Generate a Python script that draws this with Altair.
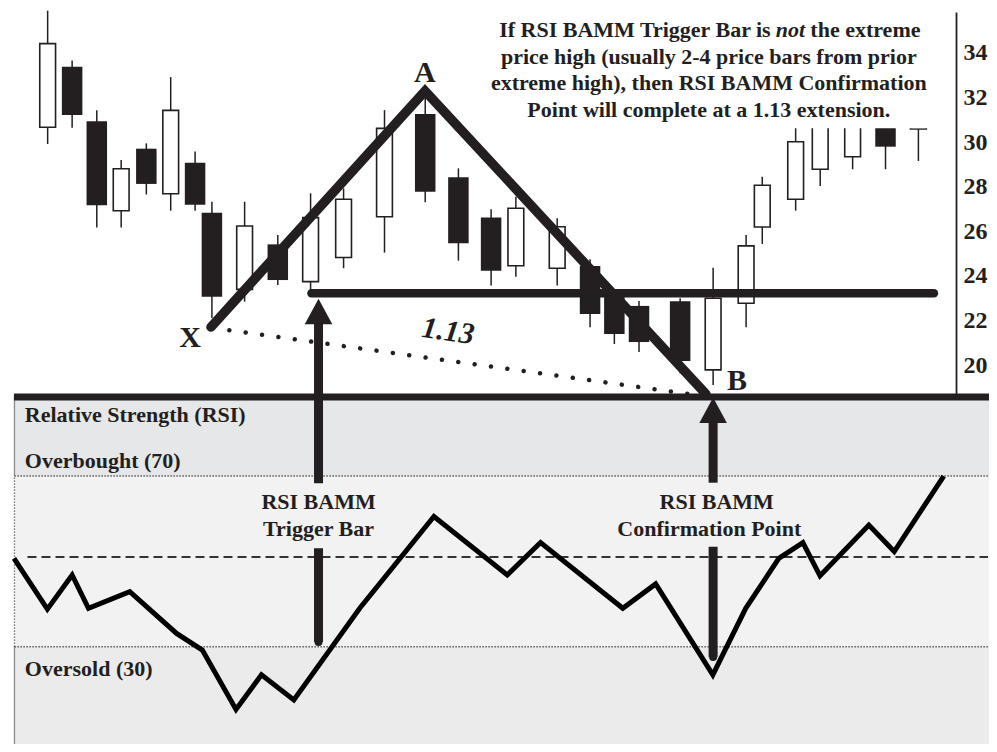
import altair as alt
import pandas as pd

# ---------------- values ----------------
# candlesticks: position on a session scale, prices in dollars
candle_t = [3.54, 6.04, 8.56, 11.05, 13.62, 16.11, 18.60, 20.32, 23.66, 27.05,
            30.40, 33.77, 37.95, 42.11, 45.50, 48.84, 51.37, 55.59, 58.95, 61.43,
            63.95, 68.15, 71.52, 74.89, 76.54, 79.95, 82.46, 85.77, 89.13, 92.49]
candle_open = [30.66, 33.38, 30.93, 26.92, 29.70, 27.68, 29.07, 26.83, 23.39, 25.41,
               23.74, 24.82, 26.65, 31.26, 28.42, 26.62, 24.45, 24.34, 24.44, 23.15,
               22.65, 22.86, 19.78, 22.77, 26.19, 27.43, 28.78, 29.34, 31.20, 30.58]
candle_high = [35.89, 33.66, 31.42, 29.19, 29.94, 32.91, 29.57, 27.32, 27.32, 25.83,
               27.70, 27.92, 31.43, 32.20, 28.82, 26.98, 27.55, 26.58, 24.74, 23.40,
               22.87, 22.99, 24.36, 25.83, 28.44, 30.90, 31.80, 31.60, 31.60, 31.80]
candle_low = [29.91, 30.64, 26.17, 26.17, 27.65, 26.92, 26.92, 22.11, 22.84, 23.59,
              23.36, 24.34, 25.04, 27.30, 24.68, 23.56, 23.96, 23.56, 21.69, 20.94,
              20.58, 19.63, 19.10, 21.69, 25.43, 26.92, 28.03, 28.78, 28.78, 29.15]
candle_close = [34.41, 31.21, 27.16, 28.80, 28.12, 31.42, 27.19, 23.06, 26.23, 23.81,
                26.61, 27.43, 30.61, 27.77, 25.46, 24.23, 27.03, 26.20, 22.29, 21.39,
                21.03, 20.18, 22.99, 25.34, 28.06, 30.01, 31.30, 31.10, 29.79, 31.40]

# RSI line
rsi_t = [0.10, 3.51, 6.04, 7.71, 11.93, 16.71, 19.34, 22.78, 25.38, 28.69,
         35.42, 43.00, 50.49, 53.89, 62.29, 65.65, 71.49, 74.85, 78.23, 80.69,
         82.44, 87.43, 90.02, 95.08]
rsi_value = [50.7, 38.8, 46.8, 39.0, 42.9, 33.1, 29.2, 15.3, 23.4, 17.5,
             39.0, 60.5, 46.8, 54.4, 39.0, 44.7, 23.4, 39.0, 50.7, 54.4,
             46.6, 58.5, 52.3, 70.0]

# pattern points X, A, B
pattern_label = ["X", "A", "B"]
pattern_t = [20.22, 42.09, 70.78]
pattern_price = [21.70, 32.29, 18.70]

# 1.13 extension (dotted) from X to B
ext_t = [20.43, 70.58]
ext_price = [21.66, 18.61]

# RSI BAMM trigger bar level
trigger_price = 23.22
trigger_t = [30.49, 94.08]

price_ticks = [20, 22, 24, 26, 28, 30, 32, 34]
price_domain = [18.565, 35.83]
rsi_overbought, rsi_oversold, rsi_mid = 70, 30, 51
rsi_panel_top = 89

# annotation box (hides the tops of the last bars)
note_box_t = [78.1, 94.6]
note_box_price = [30.615, 36.5]

note_lines = ["price high (usually 2-4 price bars from prior",
              "extreme high), then RSI BAMM Confirmation",
              "Point will complete at a 1.13 extension."]
note_line_price = [33.51, 32.32, 31.13]
note_first = ["If RSI BAMM Trigger Bar is", "not", "the extreme"]
note_first_t = [77.40, 79.42, 81.45]
note_first_price = 34.70
note_center_t = 71.08

# arrows: x position, shaft pieces (price units), head centre
arrow_t = [31.21, 71.52]
arrow_upper = [[22.108, 14.695], [17.623, 14.722]]
arrow_lower = [[11.780, 7.578], [11.852, 6.906]]
arrow_head_price = [22.399, 17.969]

rsi_labels = ["Relative Strength (RSI)", "Overbought (70)", "Oversold (30)"]
rsi_label_value = [82.72, 71.87, 23.13]
arrow_labels = ["RSI BAMM", "Trigger Bar", "RSI BAMM", "Confirmation Point"]
arrow_label_t = [31.21, 31.21, 71.89, 71.13]
arrow_label_value = [62.27, 56.01, 62.27, 56.01]

# ---------------- styles ----------------
INK = "#231f20"
SERIF = "Liberation Serif"
W, H = 981, 736

x_scale = alt.Scale(domain=[0, W / 9.89], nice=False, zero=False)
price_scale = alt.Scale(domain=price_domain, range=[389, 4], nice=False, zero=False)
rsi_scale = alt.Scale(domain=[0, 100], range=[766.7, 340.0], nice=False, zero=False)
price_axis = alt.Axis(orient="right", offset=-33, values=price_ticks, ticks=False,
                      grid=False, domainColor=INK, domainWidth=1.8, labelFont=SERIF,
                      labelFontSize=24, labelFontWeight="bold", labelColor=INK,
                      labelPadding=7, title=None, labelOverlap=False)


def ex(f):
    return alt.X(f"{f}:Q", scale=x_scale, axis=None)


def ep(f):
    return alt.Y(f"{f}:Q", scale=price_scale, axis=price_axis)


def er(f):
    return alt.Y(f"{f}:Q", scale=rsi_scale, axis=None)


# ---------------- tables ----------------
candles = pd.DataFrame({"t": candle_t, "open": candle_open, "high": candle_high,
                        "low": candle_low, "close": candle_close})
candles["lo"] = candles[["open", "close"]].min(axis=1)
candles["hi"] = candles[["open", "close"]].max(axis=1)
up = candles[candles["close"] > candles["open"]]
down = candles[candles["close"] <= candles["open"]]

pattern = pd.DataFrame({"t": pattern_t, "p": pattern_price, "label": pattern_label})
ext = pd.DataFrame({"t": ext_t, "p": ext_price})
trig = pd.DataFrame({"t": [trigger_t[0]], "t2": [trigger_t[1]], "p": [trigger_price]})
boundary = pd.DataFrame({"t": [0.10], "t2": [101], "p": [price_domain[0]]})
box = pd.DataFrame({"t": [note_box_t[0]], "t2": [note_box_t[1]],
                    "p": [note_box_price[0]], "p2": [note_box_price[1]]})
shafts = pd.DataFrame({"t": arrow_t * 2,
                       "p": [a[0] for a in arrow_upper] + [a[0] for a in arrow_lower],
                       "p2": [a[1] for a in arrow_upper] + [a[1] for a in arrow_lower]})
heads = pd.DataFrame({"t": arrow_t, "p": arrow_head_price})
caps = pd.DataFrame({"t": arrow_t, "p": [a[1] for a in arrow_lower]})

letters = pd.DataFrame({"t": [18.10, 42.07, 73.96], "p": [20.81, 32.70, 18.88],
                        "text": pattern_label})
ratio = pd.DataFrame({"t": [44.44], "p": [21.50], "text": ["1.13"]})
notes = pd.DataFrame({"t": [note_center_t] * 3, "p": note_line_price, "text": note_lines})
first_a = pd.DataFrame({"t": [note_first_t[0]], "p": [note_first_price], "text": [note_first[0]]})
first_b = pd.DataFrame({"t": [note_first_t[1]], "p": [note_first_price], "text": [note_first[1]]})
first_c = pd.DataFrame({"t": [note_first_t[2]], "p": [note_first_price], "text": [note_first[2]]})

rsi = pd.DataFrame({"t": rsi_t, "v": rsi_value})
zones = pd.DataFrame({"t": [0.15] * 3, "t2": [101] * 3,
                      "v": [rsi_overbought, rsi_oversold, -10],
                      "v2": [rsi_panel_top, rsi_overbought, rsi_oversold],
                      "zone": ["top", "mid", "bottom"]})
levels = pd.DataFrame({"t": [0.15, 0.15], "t2": [101, 101], "v": [rsi_overbought, rsi_oversold]})
mid = pd.DataFrame({"t": [1.48], "t2": [99.6], "v": [rsi_mid]})
edge_solid = pd.DataFrame({"t": [0.15, 0.15], "v": [rsi_overbought, -10],
                           "v2": [rsi_panel_top, rsi_oversold]})
edge_dot = pd.DataFrame({"t": [0.15], "v": [rsi_oversold], "v2": [rsi_overbought]})
rsi_text = pd.DataFrame({"t": [1.21] * 3, "v": rsi_label_value, "text": rsi_labels})
arrow_text = pd.DataFrame({"t": arrow_label_t, "v": arrow_label_value, "text": arrow_labels})

# ---------------- RSI panel ----------------
zone_layer = alt.Chart(zones).mark_rect(strokeWidth=0).encode(
    x=ex("t"), x2="t2", y=er("v"), y2="v2",
    color=alt.Color("zone:N", legend=None,
                    scale=alt.Scale(domain=["top", "mid", "bottom"],
                                    range=["#e6e7e9", "#f2f2f2", "#ebebeb"])))
edge_layer = alt.Chart(edge_solid).mark_rule(color="#8c8c8c", strokeWidth=1.3).encode(
    x=ex("t"), y=er("v"), y2="v2")
edge_dot_layer = alt.Chart(edge_dot).mark_rule(color="#555555", strokeWidth=1.3,
                                               strokeDash=[1.3, 1.7]).encode(
    x=ex("t"), y=er("v"), y2="v2")
level_layer = alt.Chart(levels).mark_rule(color="#444444", strokeWidth=1.4,
                                          strokeDash=[1.3, 1.7]).encode(
    x=ex("t"), x2="t2", y=er("v"))
mid_layer = alt.Chart(mid).mark_rule(color="#333333", strokeWidth=2,
                                     strokeDash=[9, 5]).encode(
    x=ex("t"), x2="t2", y=er("v"))
rsi_line = alt.Chart(rsi).mark_line(color="#000000", strokeWidth=5,
                                    strokeJoin="miter").encode(x=ex("t"), y=er("v"))
rsi_label_layer = alt.Chart(rsi_text).mark_text(
    align="left", baseline="alphabetic", font=SERIF, fontSize=22, fontWeight="bold",
    color=INK).encode(x=ex("t"), y=er("v"), text="text:N")
arrow_label_layer = alt.Chart(arrow_text).mark_text(
    align="center", baseline="alphabetic", font=SERIF, fontSize=22, fontWeight="bold",
    color=INK).encode(x=ex("t"), y=er("v"), text="text:N")

rsi_panel = alt.layer(zone_layer, edge_layer, edge_dot_layer, level_layer, mid_layer,
                      rsi_line, rsi_label_layer, arrow_label_layer)

# ---------------- price panel ----------------
wicks = alt.Chart(candles).mark_rule(color=INK, strokeWidth=1.5).encode(
    x=ex("t"), y=ep("low"), y2="high")
down_bodies = alt.Chart(down).mark_bar(size=20.5, color=INK).encode(
    x=ex("t"), y=ep("lo"), y2="hi")
up_bodies = alt.Chart(up).mark_bar(size=15.8, fill="white", stroke=INK,
                                   strokeWidth=1.6).encode(
    x=ex("t"), y=ep("lo"), y2="hi")
box_layer = alt.Chart(box).mark_rect(fill="white").encode(
    x=ex("t"), x2="t2", y=ep("p"), y2="p2")
boundary_layer = alt.Chart(boundary).mark_rule(color=INK, strokeWidth=7).encode(
    x=ex("t"), x2="t2", y=ep("p"))
ext_layer = alt.Chart(ext).mark_line(color=INK, strokeWidth=4.5, strokeCap="round",
                                     strokeDash=[0.01, 16.5]).encode(
    x=ex("t"), y=ep("p"))
pattern_layer = alt.Chart(pattern).mark_line(color=INK, strokeWidth=9.5,
                                             strokeCap="round",
                                             strokeJoin="miter").encode(
    x=ex("t"), y=ep("p"))
trig_layer = alt.Chart(trig).mark_rule(color=INK, strokeWidth=8.5,
                                       strokeCap="round").encode(
    x=ex("t"), x2="t2", y=ep("p"))
shaft_layer = alt.Chart(shafts).mark_rule(color=INK, strokeWidth=9).encode(
    x=ex("t"), y=ep("p"), y2="p2")
cap_layer = alt.Chart(caps).mark_point(shape="circle", filled=True, size=64,
                                       color=INK, opacity=1, strokeWidth=0).encode(
    x=ex("t"), y=ep("p"))
head_layer = alt.Chart(heads).mark_point(shape="M0,-0.92L-1,0.92L1,0.92Z", filled=True,
                                         size=760, color=INK, opacity=1,
                                         strokeWidth=0).encode(
    x=ex("t"), y=ep("p"))
letter_layer = alt.Chart(letters).mark_text(
    align="center", baseline="alphabetic", font=SERIF, fontSize=30, fontWeight="bold",
    color=INK).encode(x=ex("t"), y=ep("p"), text="text:N")
ratio_layer = alt.Chart(ratio).mark_text(
    align="center", baseline="middle", font=SERIF, fontSize=30, fontWeight="bold",
    fontStyle="italic", angle=8, color=INK).encode(x=ex("t"), y=ep("p"), text="text:N")
note_layer = alt.Chart(notes).mark_text(
    align="center", baseline="alphabetic", font=SERIF, fontSize=22, fontWeight="bold",
    color=INK).encode(x=ex("t"), y=ep("p"), text="text:N")
first_a_layer = alt.Chart(first_a).mark_text(
    align="right", baseline="alphabetic", font=SERIF, fontSize=22, fontWeight="bold",
    color=INK).encode(x=ex("t"), y=ep("p"), text="text:N")
first_b_layer = alt.Chart(first_b).mark_text(
    align="center", baseline="alphabetic", font=SERIF, fontSize=22, fontWeight="bold",
    fontStyle="italic", color=INK).encode(x=ex("t"), y=ep("p"), text="text:N")
first_c_layer = alt.Chart(first_c).mark_text(
    align="left", baseline="alphabetic", font=SERIF, fontSize=22, fontWeight="bold",
    color=INK).encode(x=ex("t"), y=ep("p"), text="text:N")

price_panel = alt.layer(wicks, down_bodies, up_bodies, box_layer, boundary_layer,
                        ext_layer, pattern_layer, trig_layer, shaft_layer, cap_layer,
                        head_layer, letter_layer, ratio_layer, note_layer,
                        first_a_layer, first_b_layer, first_c_layer)

chart = alt.layer(rsi_panel, price_panel).resolve_scale(y="independent").properties(
    width=W, height=H, padding=0, background="white",
    autosize=alt.AutoSizeParams(type="none")
).configure_view(stroke=None)

chart.save("out.html", embed_options={"renderer": "svg", "actions": False})
